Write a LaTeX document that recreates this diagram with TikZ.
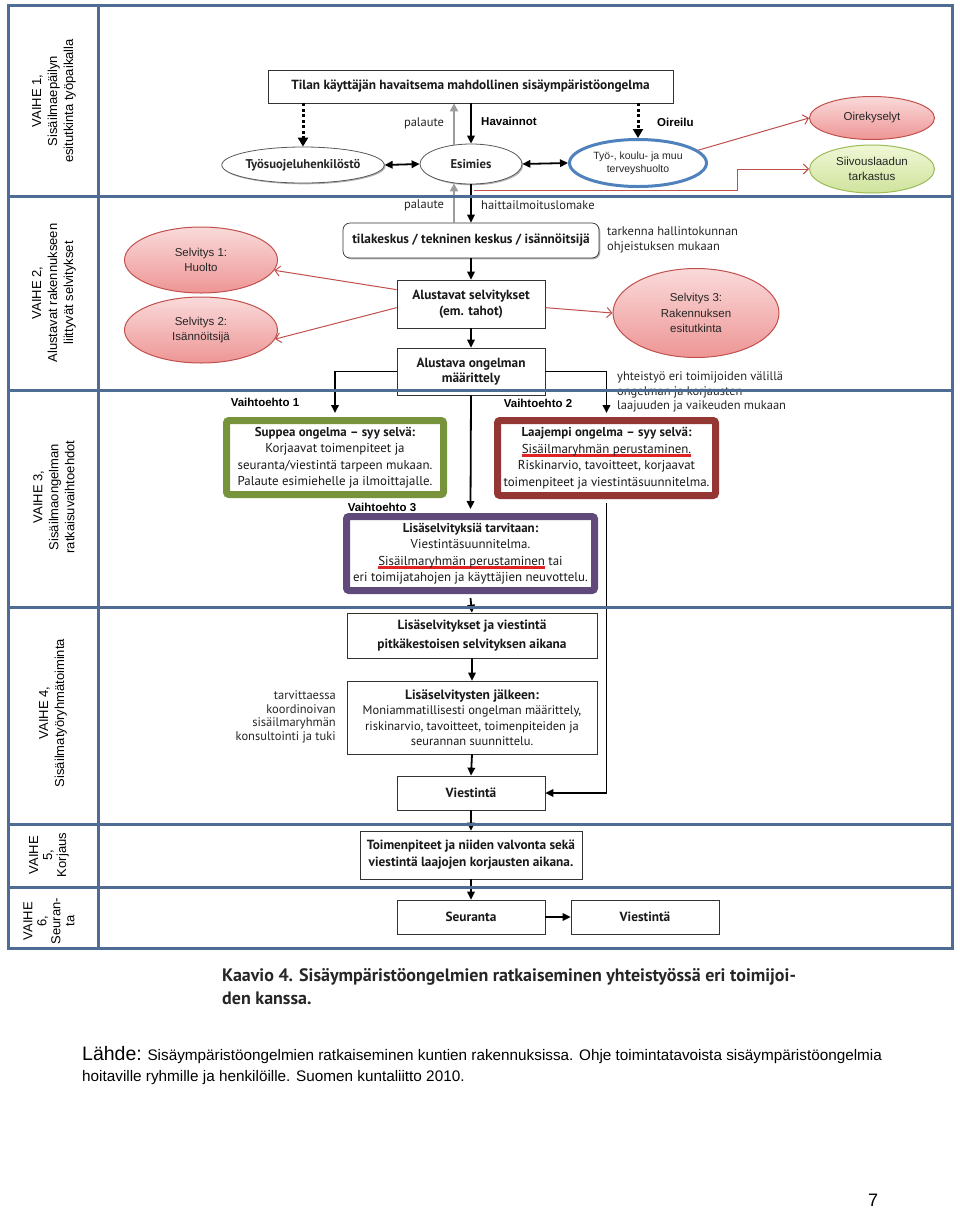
\documentclass[tikz,border=0pt]{standalone}
\usepackage{fontspec}
\setmainfont{Liberation Sans}
\newfontfamily\my{PT Sans}
\usetikzlibrary{arrows.meta,shapes.geometric,shadows,calc}
\definecolor{gridc}{HTML}{4F6C94}
\definecolor{greenb}{HTML}{77933C}
\definecolor{redb}{HTML}{943634}
\definecolor{purpb}{HTML}{604A7B}
\definecolor{redline}{HTML}{C0504D}
\definecolor{ulred}{HTML}{E02424}
\definecolor{bluel}{HTML}{4F81BD}
\definecolor{grayc}{HTML}{9C9C9C}
\definecolor{pinkt}{HTML}{FADADA}
\definecolor{pinkb}{HTML}{EE9595}
\definecolor{greent}{HTML}{F0F7D6}
\definecolor{greenbt}{HTML}{CFE39C}
\definecolor{greenl}{HTML}{9BBB59}
\newcommand\bxr{\my\fontsize{12.9}{16.5}\selectfont}
\newcommand\bxb{\my\bfseries\fontsize{13.3}{16}\selectfont}
\newcommand\ntf{\my\fontsize{12.5}{14.5}\selectfont}
\newcommand\elf{\fontsize{11.5}{15.5}\selectfont}
\newcommand\labb{\bfseries\fontsize{11.5}{14}\selectfont}
\newcommand\vlf{\fontsize{13}{16}\selectfont}
\newcommand\vlg{\fontsize{13}{14}\selectfont}
\newsavebox\ulbox
\newcommand\redul[1]{\sbox\ulbox{#1}\leavevmode\rlap{{\color{ulred}\rule[-3.6pt]{\wd\ulbox}{2.2pt}}}\usebox\ulbox}
\begin{document}
\begin{tikzpicture}[x=1pt,y=-1pt,
  grid/.style={draw=gridc, line width=3pt},
  shad/.style={drop shadow={shadow xshift=1.3pt, shadow yshift=-1.3pt, fill=black!50, opacity=0.6}},
  pbox/.style={draw=black!80, line width=0.7pt, fill=white, align=center, inner sep=0pt, text=black!90, font=\bxb, shad},
  colbox/.style={line width=7pt, rounded corners=2.5pt, fill=white, align=center, inner sep=0pt, text=black!90, font=\bxr},
  ell/.style={ellipse, inner sep=0pt, align=center, font=\elf, text=black!85},
  wel/.style={ell, draw=black!65, line width=0.8pt, fill=white, font={\my\bfseries\fontsize{12.7}{15}\selectfont}, shad},
  pel/.style={ell, draw=redline, line width=1pt, top color=pinkt, bottom color=pinkb},
  gel/.style={ell, draw=greenl, line width=1pt, top color=greent, bottom color=greenbt},
  arr/.style={line width=1.8pt, -{Triangle[length=8pt,width=7.5pt]}},
  darr/.style={line width=1.8pt, {Triangle[length=8pt,width=7.5pt]}-{Triangle[length=8pt,width=7.5pt]}},
  dasharr/.style={line width=3pt, dash pattern=on 3pt off 2.5pt, -{Triangle[length=9pt,width=10pt]}},
  grayarr/.style={draw=grayc, line width=2.5pt, -{Triangle[length=8pt,width=8pt]}},
  redarr/.style={draw=redline, line width=1pt, -{Straight Barb[length=5pt,width=10pt]}},
  lbl/.style={inner sep=0pt, font=\labb},
  note/.style={inner sep=0pt, font=\ntf, text=black!85},
  vlab/.style={rotate=90, align=center, inner sep=0pt, font=\vlf}
]
\fill[white] (0,0) rectangle (960,1211);
\useasboundingbox (0,0) rectangle (960,1211);

% ---------- Row 1 ----------
\node[pbox, minimum width=405pt, minimum height=33pt] (tilan) at (470.5,86.5) {Tilan käyttäjän havaitsema mahdollinen sisäympäristöongelma};
\node[wel, minimum width=137pt, minimum height=36pt] (tyos) at (303,165) {Työsuojeluhenkilöstö};
\node[wel, minimum width=102pt, minimum height=40pt] (esim) at (471,164) {Esimies};
\node[ell, draw=bluel, line width=3pt, fill=white, minimum width=137pt, minimum height=47pt, font=\fontsize{10.5}{13}\selectfont] (terv) at (638,163) {Työ-, koulu- ja muu\\terveyshuolto};
\node[pel, minimum width=125pt, minimum height=43pt] (oire) at (872,118) {Oirekyselyt};
\node[gel, minimum width=125pt, minimum height=48pt] (siiv) at (872,169) {Siivouslaadun\\tarkastus};

\draw[dasharr] (tyos.north |- tilan.south) -- (tyos.north);
\draw[grayarr] ([xshift=-17pt,yshift=-2pt]esim.north) -- ([xshift=-17pt]esim.north |- tilan.south);
\draw[arr] (esim.north |- tilan.south) -- (esim.north);
\draw[dasharr] (terv.north |- tilan.south) -- (terv.north);
\draw[darr] (tyos.east) -- (esim.west);
\draw[darr] (esim.east) -- (terv.west);
\draw[redarr] (terv.12) -- (oire.west);
\coordinate (rs) at (474,190);
\coordinate (rc) at (737,190);
\draw[redarr] (rs) -- (rc) |- (siiv.west);

\node[note] (pal1) at (424,123) {palaute};
\node[lbl, anchor=west] (hav) at (481,121) {Havainnot};
\node[lbl, anchor=west] (oir) at (657,122) {Oireilu};

% ---------- Row 2 ----------
\node[pbox, rounded corners=7pt, minimum width=256pt, minimum height=35pt] (tila) at (471,240.5) {tilakeskus / tekninen keskus / isännöitsijä};
\node[pbox, minimum width=148pt, minimum height=48pt] (alus) at (471,304) {Alustavat selvitykset\\(em. tahot)};
\node[pbox, minimum width=148pt, minimum height=47pt, font={\my\bfseries\fontsize{13.3}{15.5}\selectfont}] (ong) at (471,371.5) {Alustava ongelman\\määrittely};
\node[pel, minimum width=153pt, minimum height=66pt] (s1) at (201,260) {Selvitys 1:\\Huolto};
\node[pel, minimum width=153pt, minimum height=66pt] (s2) at (201,330) {Selvitys 2:\\Isännöitsijä};
\node[pel, minimum width=166pt, minimum height=89pt] (s3) at (696,313) {Selvitys 3:\\Rakennuksen\\esitutkinta};

\draw[grayarr] ([xshift=-17pt]tila.north) -- ([xshift=-17pt,yshift=1pt]esim.south);
\draw[arr] (esim.south) -- (tila.north);
\draw[arr] (tila.south) -- (alus.north);
\draw[arr] (alus.south) -- (ong.north);
\draw[redarr] ([yshift=-10pt]alus.north west) -- (s1.-8);
\draw[redarr] ([yshift=-28pt]alus.north west) -- (s2.-7);
\draw[redarr] ([yshift=-28pt]alus.north east) -- (s3.west);

\node[note] (pal2) at (424,205) {palaute};
\node[note, anchor=west] (hai) at (481,205) {haittailmoituslomake};
\node[note, anchor=west, align=left] (tark) at (607,240) {tarkenna hallintokunnan\\ohjeistuksen mukaan};
\node[note, anchor=west, align=left] (yht) at (617,392) {yhteistyö eri toimijoiden välillä\\ongelman ja korjausten\\laajuuden ja vaikeuden mukaan};

% ---------- Row 3 ----------
\node[colbox, draw=greenb, minimum width=217pt, minimum height=74pt] (grn) at (335,457.5) {{\bfseries Suppea ongelma – syy selvä:}\\Korjaavat toimenpiteet ja\\seuranta/viestintä tarpeen mukaan.\\Palaute esimiehelle ja ilmoittajalle.};
\node[colbox, draw=redb, minimum width=218pt, minimum height=75pt] (red) at (606.5,458) {{\bfseries Laajempi ongelma – syy selvä:}\\\redul{Sisäilmaryhmän perustaminen.}\\Riskinarvio, tavoitteet, korjaavat\\toimenpiteet ja viestintäsuunnitelma.};
\node[colbox, draw=purpb, minimum width=248pt, minimum height=74pt] (pur) at (470.5,553.5) {{\bfseries Lisäselvityksiä tarvitaan:}\\Viestintäsuunnitelma.\\\redul{Sisäilmaryhmän perustaminen} tai\\eri toimijatahojen ja käyttäjien neuvottelu.};

\draw[arr] (ong.west) -| ([yshift=4pt]grn.north);
\draw[arr] (ong.east) -| ([yshift=4pt]red.north);
\draw[arr] (ong.south) -- ([yshift=4pt]pur.north);

\node[lbl] (v1) at (265,402) {Vaihtoehto 1};
\node[lbl] (v2) at (538,403) {Vaihtoehto 2};
\node[lbl] (v3) at (382,507) {Vaihtoehto 3};

% ---------- Row 4 ----------
\node[pbox, minimum width=250pt, minimum height=45pt, font={\my\bfseries\fontsize{13.3}{19}\selectfont}] (lis1) at (472,635.5) {Lisäselvitykset ja viestintä\\pitkäkestoisen selvityksen aikana};
\node[pbox, minimum width=250pt, minimum height=73pt, font=\my\fontsize{12.5}{15.5}\selectfont] (lis2) at (472,717.5) {{\bfseries\fontsize{13.5}{15.5}\selectfont Lisäselvitysten jälkeen:}\\Moniammatillisesti ongelman määrittely,\\riskinarvio, tavoitteet, toimenpiteiden ja\\seurannan suunnittelu.};
\node[pbox, minimum width=148pt, minimum height=34pt] (vie1) at (471,793) {Viestintä};
\node[note, anchor=east, align=right, font=\my\fontsize{12.5}{13.7}\selectfont] (tarv) at (336,717) {tarvittaessa\\koordinoivan\\sisäilmaryhmän\\konsultointi ja tuki};

\draw[arr] ([yshift=-4pt]pur.south) -- (lis1.north);
\draw[arr] (lis1.south) -- (lis2.north);
\draw[arr] (lis2.south) -- (vie1.north);
\draw[arr] ([yshift=-4pt]red.south) |- (vie1.east);

% ---------- Row 5 / 6 ----------
\node[pbox, minimum width=222pt, minimum height=48pt, font={\my\bfseries\fontsize{13.3}{17}\selectfont}] (toim) at (471,855) {Toimenpiteet ja niiden valvonta sekä\\viestintä laajojen korjausten aikana.};
\node[pbox, minimum width=148pt, minimum height=34pt] (seur) at (471,917) {Seuranta};
\node[pbox, minimum width=148pt, minimum height=34pt] (vie2) at (645,917) {Viestintä};
\draw[arr] (vie1.south) -- (toim.north);
\draw[arr] (toim.south) -- (seur.north);
\draw[arr] (seur.east) -- (vie2.west);

% ---------- Phase labels ----------
\node[vlab] (l1) at (54,101) {VAIHE 1,\\Sisäilmaepäilyn\\esitutkinta työpaikalla};
\node[vlab] (l2) at (54,293) {VAIHE 2,\\Alustavat rakennukseen\\liittyvät selvitykset};
\node[vlab] (l3) at (54,497) {VAIHE 3,\\Sisäilmaongelman\\ratkaisuvaihtoehdot};
\node[vlab] (l4) at (53,713) {VAIHE 4,\\Sisäilmatyöryhmätoiminta};
\node[vlab, font=\vlg] (l5) at (49,855) {VAIHE\\5,\\Korjaus};
\node[vlab, font=\vlg] (l6) at (49,921) {VAIHE\\6,\\Seuran-\\ta};

% ---------- Grid ----------
\draw[grid] (8,5) rectangle (952,948);
\draw[grid] (98,5) -- (98,948);
\foreach \yy in {196,390,607,824,887} \draw[grid] (8,\yy) -- (952,\yy);

% ---------- Caption and source ----------
\node[anchor=west, align=left, inner sep=0pt, text=black!85, font={\my\bfseries\fontsize{18}{23}\selectfont}] (cap) at (222,987) {Kaavio 4. Sisäympäristöongelmien ratkaiseminen yhteistyössä eri toimijoi-\\den kanssa.};
\node[anchor=west, align=left, inner sep=0pt, font=\fontsize{15.3}{21}\selectfont] (src) at (82,1066) {{\fontsize{19.5}{21}\selectfont Lähde:} Sisäympäristöongelmien ratkaiseminen kuntien rakennuksissa. Ohje toimintatavoista sisäympäristöongelmia\\hoitaville ryhmille ja henkilöille. Suomen kuntaliitto 2010.};
\node[inner sep=0pt, font=\fontsize{18}{20}\selectfont] (pg) at (873,1200) {7};
\end{tikzpicture}
\end{document}
